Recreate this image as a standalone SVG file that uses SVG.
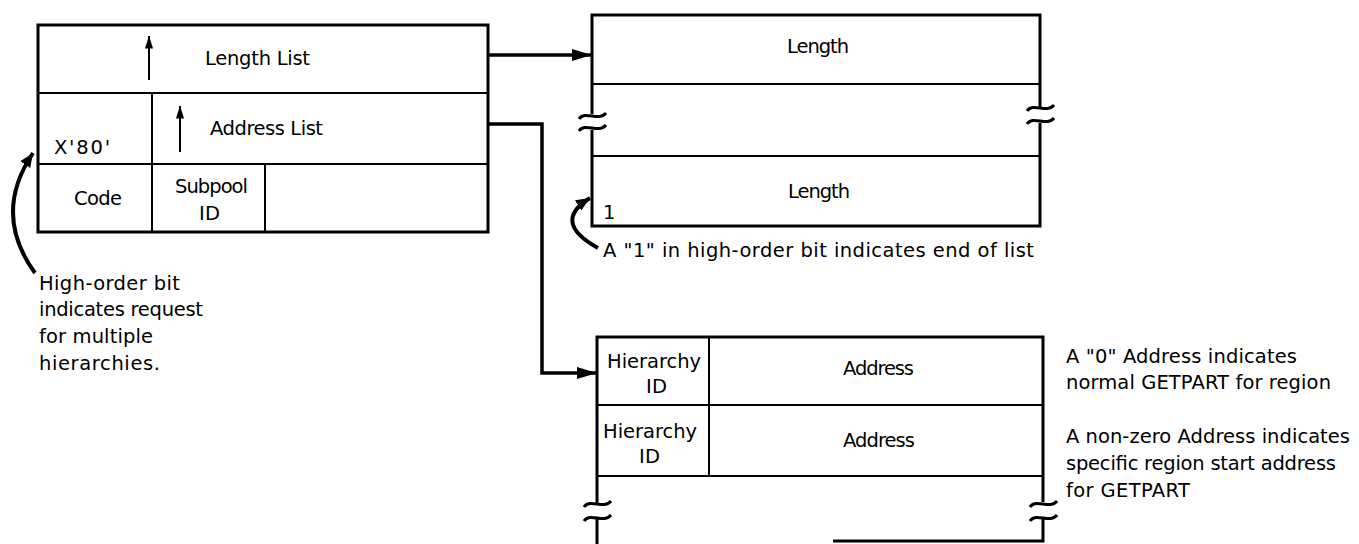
<svg xmlns="http://www.w3.org/2000/svg" width="1359" height="544" viewBox="0 0 1359 544">
<style>
text{font-family:"DejaVu Sans","Liberation Sans",sans-serif;font-size:19.5px;fill:#000}
.box{fill:none;stroke:#000;stroke-width:3}
.ln{fill:none;stroke:#000;stroke-width:2}
.conn{fill:none;stroke:#000;stroke-width:3.5}
.brk{fill:none;stroke:#000;stroke-width:3}
.curl{fill:none;stroke:#000;stroke-width:4}
.up{fill:none;stroke:#000;stroke-width:2}
</style>
<defs>
<marker id="ah" markerUnits="userSpaceOnUse" markerWidth="22" markerHeight="14" refX="20" refY="7" orient="auto"><path d="M0,1 L20,7 L0,13 Z" fill="#000"/></marker>
<marker id="ahs" markerUnits="userSpaceOnUse" markerWidth="10" markerHeight="14" refX="5" refY="0.5" orient="0"><path d="M5,0 L9,13 L1,13 Z" fill="#000"/></marker>
<marker id="ahc" markerUnits="userSpaceOnUse" markerWidth="16" markerHeight="14" refX="14" refY="7" orient="auto"><path d="M0,1 L14,7 L0,13 Z" fill="#000"/></marker>
</defs>

<g id="parameter-list">
<rect class="box" x="38" y="25" width="450" height="207"/>
<line class="ln" x1="38" y1="93" x2="488" y2="93"/>
<line class="ln" x1="38" y1="164" x2="488" y2="164"/>
<line class="ln" x1="152" y1="93" x2="152" y2="232"/>
<line class="ln" x1="265" y1="164" x2="265" y2="232"/>
<line class="up" x1="149" y1="80" x2="149" y2="36" marker-end="url(#ahs)"/>
<line class="up" x1="180" y1="152" x2="180" y2="106" marker-end="url(#ahs)"/>
<text x="205" y="65" textLength="105" lengthAdjust="spacing">Length List</text>
<text x="210" y="135" textLength="113" lengthAdjust="spacing">Address List</text>
<text x="54" y="154" textLength="56" lengthAdjust="spacing">X'80'</text>
<text x="74" y="205" textLength="48" lengthAdjust="spacing">Code</text>
<text x="175" y="193" textLength="73" lengthAdjust="spacing">Subpool</text>
<text x="199" y="220" textLength="21" lengthAdjust="spacing">ID</text>
</g>

<g id="note-high-order">
<path class="curl" d="M35,273 Q-8,214 33,153" marker-end="url(#ahc)"/>
<text x="39" y="290" textLength="141" lengthAdjust="spacing">High-order bit</text>
<text x="39" y="316" textLength="164" lengthAdjust="spacing">indicates request</text>
<text x="39" y="343" textLength="114" lengthAdjust="spacing">for multiple</text>
<text x="39" y="370" textLength="121" lengthAdjust="spacing">hierarchies.</text>
</g>

<g id="length-list">
<path class="box" d="M592,114 L592,15 L1040,15 L1040,107"/>
<path class="box" d="M1040,123 L1040,226 L592,226 L592,130"/>
<line class="ln" x1="592" y1="84" x2="1040" y2="84"/>
<line class="ln" x1="592" y1="156" x2="1040" y2="156"/>
<path class="brk" d="M579,119 C585,110 599,122 606,113"/>
<path class="brk" d="M579,131 C585,122 599,134 606,125"/>
<path class="brk" d="M1027,111 C1033,102 1047,114 1054,105"/>
<path class="brk" d="M1027,124 C1033,115 1047,127 1054,118"/>
<text x="787" y="53" textLength="62" lengthAdjust="spacing">Length</text>
<text x="788" y="198" textLength="62" lengthAdjust="spacing">Length</text>
<text x="603" y="219">1</text>
</g>

<g id="note-end-of-list">
<path class="curl" d="M598,248 Q551,222 590,198" marker-end="url(#ahc)"/>
<text x="603" y="257" textLength="431" lengthAdjust="spacing">A "1" in high-order bit indicates end of list</text>
</g>

<g id="address-list">
<path class="box" d="M597,503 L597,337 L1043,337 L1043,502"/>
<path class="box" d="M597,518 L597,544"/>
<path class="box" d="M1043,517 L1043,541 L833,541"/>
<line class="ln" x1="597" y1="405" x2="1043" y2="405"/>
<line class="ln" x1="597" y1="476" x2="1043" y2="476"/>
<line class="ln" x1="709" y1="337" x2="709" y2="476"/>
<path class="brk" d="M584,507 C590,498 604,510 611,501"/>
<path class="brk" d="M584,521 C590,512 604,524 611,515"/>
<path class="brk" d="M1030,507 C1036,498 1050,510 1057,501"/>
<path class="brk" d="M1030,521 C1036,512 1050,524 1057,515"/>
<text x="607" y="368" textLength="94" lengthAdjust="spacing">Hierarchy</text>
<text x="646" y="393" textLength="21" lengthAdjust="spacing">ID</text>
<text x="843" y="375" textLength="71" lengthAdjust="spacing">Address</text>
<text x="603" y="438" textLength="94" lengthAdjust="spacing">Hierarchy</text>
<text x="639" y="463" textLength="21" lengthAdjust="spacing">ID</text>
<text x="843" y="447" textLength="72" lengthAdjust="spacing">Address</text>
</g>

<g id="note-address">
<text x="1066" y="363" textLength="231" lengthAdjust="spacing">A "0" Address indicates</text>
<text x="1066" y="389" textLength="265" lengthAdjust="spacing">normal GETPART for region</text>
<text x="1066" y="443" textLength="284" lengthAdjust="spacing">A non-zero Address indicates</text>
<text x="1066" y="470" textLength="270" lengthAdjust="spacing">specific region start address</text>
<text x="1066" y="497" textLength="124" lengthAdjust="spacing">for GETPART</text>
</g>

<g id="connectors">
<path class="conn" d="M488,55 L592,55" marker-end="url(#ah)"/>
<path class="conn" d="M488,124 L542,124 L542,373 L597,373" marker-end="url(#ah)"/>
</g>
</svg>
